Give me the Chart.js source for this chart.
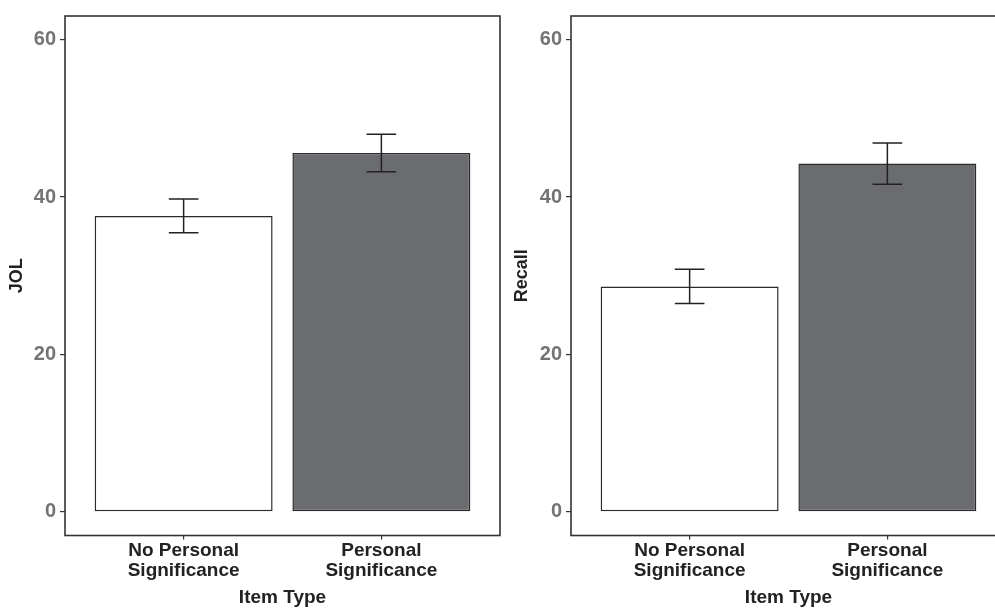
<!DOCTYPE html>
<html>
<head>
<meta charset="utf-8">
<script src="https://cdn.jsdelivr.net/npm/chart.js@4/dist/chart.umd.min.js"></script>
<style>
  html, body { margin: 0; padding: 0; background: #fff; overflow: hidden; }
  body { width: 995px; height: 608px; position: relative; }
  .panel { position: absolute; top: 0; height: 608px; }
  #jolWrap { left: 0; width: 505px; }
  #recallWrap { left: 505px; width: 520px; }
</style>
</head>
<body>
<div class="panel" id="jolWrap"><canvas id="jolChart"></canvas></div>
<div class="panel" id="recallWrap"><canvas id="recallChart"></canvas></div>
<script>
// Item types on the x axis
const categories = ['No Personal Significance', 'Personal Significance'];
const categoryLines = [['No Personal', 'Significance'], ['Personal', 'Significance']];

// Mean judgments of learning and their standard errors
const jolMeans = [37.6, 45.6];
const jolErr = [2.15, 2.38];

// Mean recall and their standard errors
const recallMeans = [28.65, 44.25];
const recallErr = [2.19, 2.62];

// Value axis ticks and limits
const yTicks = [0, 20, 40, 60];
const yMin = -3, yMax = 63;

const barFills = ['#ffffff', '#6b6c70'];
const ink = '#2b2b2b';
const fontFamily = "'Liberation Sans', Arial, Helvetica, sans-serif";

// Draws the error bars and the frame around the plotting area
const panelPlugin = {
  id: 'panelDecor',
  afterDatasetsDraw(chart, args, opts) {
    const { ctx, scales: { x, y } } = chart;
    const meta = chart.getDatasetMeta(0);
    const capHalf = Math.abs(x.getPixelForValue(0.075) - x.getPixelForValue(0));
    ctx.save();
    ctx.strokeStyle = '#222';
    ctx.lineWidth = 1.5;
    meta.data.forEach((bar, i) => {
      const m = opts.means[i], e = opts.errs[i];
      const top = y.getPixelForValue(m + e);
      const bot = y.getPixelForValue(m - e);
      const cx = bar.x;
      ctx.beginPath();
      ctx.moveTo(cx, top); ctx.lineTo(cx, bot);
      ctx.moveTo(cx - capHalf, top); ctx.lineTo(cx + capHalf, top);
      ctx.moveTo(cx - capHalf, bot); ctx.lineTo(cx + capHalf, bot);
      ctx.stroke();
    });
    ctx.restore();
  },
  afterDraw(chart) {
    const { ctx, chartArea: a } = chart;
    ctx.save();
    ctx.strokeStyle = '#333';
    ctx.lineWidth = 1.6;
    ctx.strokeRect(a.left, a.top, a.right - a.left, a.bottom - a.top);
    ctx.restore();
  }
};

function makePanel(canvasId, yTitle, means, errs, axisWidth, rightPad) {
  const points = means.map((v, i) => ({ x: i, y: v }));
  return new Chart(document.getElementById(canvasId), {
    type: 'bar',
    data: {
      datasets: [{
        data: points,
        backgroundColor: barFills,
        borderColor: ink,
        borderWidth: 1.5,
        borderSkipped: false,
        barPercentage: 0.9,
        categoryPercentage: 1.0
      }]
    },
    options: {
      responsive: true,
      maintainAspectRatio: false,
      animation: false,
      devicePixelRatio: 1,
      layout: { padding: { top: 13, right: rightPad, left: 0, bottom: 0 } },
      plugins: {
        legend: { display: false },
        tooltip: { enabled: false },
        panelDecor: { means: means, errs: errs }
      },
      scales: {
        x: {
          type: 'linear',
          offset: false,
          min: -0.6,
          max: 1.6,
          afterBuildTicks(scale) { scale.ticks = categories.map((c, i) => ({ value: i })); },
          afterFit(scale) { scale.height = 72.5; },
          grid: { offset: false, drawOnChartArea: false, drawTicks: true, tickLength: 4, color: '#333', lineWidth: 1.2 },
          border: { display: false },
          ticks: {
            autoSkip: false,
            maxRotation: 0,
            padding: 1,
            color: '#222',
            font: { family: fontFamily, size: 19, weight: 'bold', lineHeight: 1.05 },
            callback: (v) => categoryLines[v] || ''
          },
          title: {
            display: true,
            text: 'Item Type',
            color: '#222',
            padding: { top: 0, bottom: 0 },
            font: { family: fontFamily, size: 19, weight: 'bold', lineHeight: 1.1 }
          }
        },
        y: {
          type: 'linear',
          min: yMin,
          max: yMax,
          afterBuildTicks(scale) { scale.ticks = yTicks.map(v => ({ value: v })); },
          afterFit(scale) { scale.width = axisWidth; },
          grid: { drawOnChartArea: false, drawTicks: true, tickLength: 5, color: '#333', lineWidth: 1.2 },
          border: { display: false },
          ticks: {
            padding: 4,
            color: '#737373',
            font: { family: fontFamily, size: 20, weight: 'bold' }
          },
          title: {
            display: true,
            text: yTitle,
            color: '#222',
            padding: { top: 6.5, bottom: 0 },
            font: { family: fontFamily, size: 18, weight: 'bold', lineHeight: 1.2 }
          }
        }
      }
    },
    plugins: [panelPlugin]
  });
}

makePanel('jolChart', 'JOL', jolMeans, jolErr, 65, 5);
makePanel('recallChart', 'Recall', recallMeans, recallErr, 66, 19);
</script>
</body>
</html>
